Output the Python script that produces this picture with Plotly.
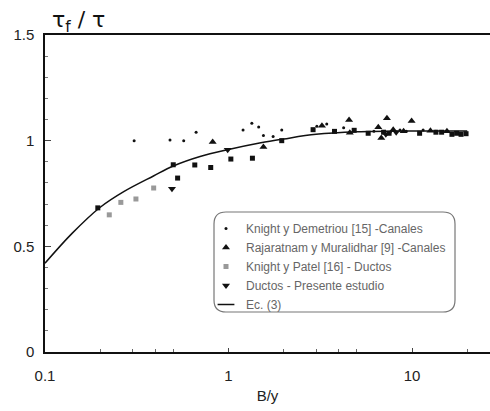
import plotly.graph_objects as go
import numpy as np

# Knight y Demetriou [15] - Canales (dots)
kd_x = [0.306, 0.48, 0.57, 0.666, 1.20, 1.34, 1.46, 1.55, 1.75, 1.95, 3.03, 3.43, 4.24, 6.2, 7.6, 8.6, 9.3, 11.5, 13.5]
kd_y = [1.00, 1.003, 1.00, 1.04, 1.05, 1.082, 1.065, 1.024, 1.02, 1.05, 1.068, 1.079, 1.061, 1.045, 1.04, 1.05, 1.045, 1.05, 1.045]

# Rajaratnam y Muralidhar [9] - Canales (triangles)
rm_x = [0.82, 1.55, 3.23, 4.54, 4.58, 6.55, 6.8, 7.3, 7.9, 9.0, 9.95, 12.6, 15.5]
rm_y = [0.994, 0.97, 1.07, 1.098, 1.038, 1.063, 1.013, 1.106, 1.052, 1.045, 1.093, 1.047, 1.045]

# Knight y Patel [16] - Ductos (squares)
kp_x = [0.224, 0.259, 0.313, 0.391, 0.194, 0.50, 0.528, 0.655, 0.80, 1.03, 1.35, 1.95, 2.89, 3.78, 4.84,
        5.77, 7.0, 7.5, 11.0, 13.5, 14.5, 16.5, 17.5, 18.5, 19.7]
kp_y = [0.649, 0.708, 0.724, 0.776, 0.682, 0.886, 0.823, 0.885, 0.873, 0.913, 0.917, 1.00, 1.052, 1.044, 1.049,
        1.035, 1.04, 1.035, 1.035, 1.04, 1.04, 1.03, 1.035, 1.03, 1.033]
kp_gray = [True, True, True, True] + [False] * 21

# Ductos - Presente estudio (down triangles)
dp_x = [0.492, 0.99, 7.2, 8.2]
dp_y = [0.773, 0.957, 1.03, 1.04]

# Ec. (3) curve
ec_x = [0.1, 0.14, 0.2, 0.27, 0.39, 0.5, 0.7, 1.0, 1.5, 2.0, 3.0, 5.0, 10.0, 20.0]
ec_y = [0.42, 0.56, 0.685, 0.76, 0.833, 0.88, 0.925, 0.958, 0.99, 1.008, 1.03, 1.042, 1.046, 1.046]

legend_names = ["Knight y Demetriou [15] -Canales", "Rajaratnam y Muralidhar [9] -Canales",
                "Knight y Patel [16] - Ductos", "Ductos - Presente estudio", "Ec. (3)"]

fig = go.Figure()
fig.add_trace(go.Scatter(x=kd_x, y=kd_y, mode="markers", name=legend_names[0],
                         marker=dict(symbol="circle", size=3, color="#111")))
fig.add_trace(go.Scatter(x=rm_x, y=rm_y, mode="markers", name=legend_names[1],
                         marker=dict(symbol="triangle-up", size=7, color="#111")))
fig.add_trace(go.Scatter(x=kp_x, y=kp_y, mode="markers", name=legend_names[2],
                         marker=dict(symbol="square", size=5,
                                     color=["#999" if g else "#111" for g in kp_gray])))
fig.add_trace(go.Scatter(x=dp_x, y=dp_y, mode="markers", name=legend_names[3],
                         marker=dict(symbol="triangle-down", size=7, color="#111")))
fig.add_trace(go.Scatter(x=ec_x, y=ec_y, mode="lines", name=legend_names[4], showlegend=False,
                         line=dict(color="#111", width=1.5, shape="spline", smoothing=1.0)))
# legend-only entry with a short dash symbol
fig.add_trace(go.Scatter(x=[None], y=[None], mode="markers", name=legend_names[4],
                         marker=dict(symbol="line-ew-open", size=12, color="#111",
                                     line=dict(color="#111", width=1.5))))

W, H = 490, 411
L, R, T, B = 45, 0, 35, 59
pw, ph = W - L - R, H - T - B

def px2paper(px, py):
    return (px - L) / pw, (H - B - py) / ph

# rounded legend box
x0, y0, x1, y1, r = 214, 212, 455, 312, 12
def P(px, py):
    a, b = px2paper(px, py)
    return f"{a:.5f},{b:.5f}"
path = (f"M {P(x0 + r, y0)} L {P(x1 - r, y0)} Q {P(x1, y0)} {P(x1, y0 + r)} "
        f"L {P(x1, y1 - r)} Q {P(x1, y1)} {P(x1 - r, y1)} "
        f"L {P(x0 + r, y1)} Q {P(x0, y1)} {P(x0, y1 - r)} "
        f"L {P(x0, y0 + r)} Q {P(x0, y0)} {P(x0 + r, y0)} Z")
fig.add_shape(type="path", path=path, xref="paper", yref="paper",
              line=dict(color="#777", width=1.2), fillcolor="rgba(0,0,0,0)")

lx, ly = px2paper(206, 214)

fig.update_layout(
    width=W, height=H,
    margin=dict(l=L, r=R, t=T, b=B),
    paper_bgcolor="white", plot_bgcolor="white",
    font=dict(family="Liberation Sans, Arial, sans-serif", color="#222"),
    showlegend=True,
    legend=dict(x=lx, y=ly, xanchor="left", yanchor="top", bgcolor="rgba(0,0,0,0)",
                font=dict(size=12, color="#666"), itemwidth=30, tracegroupgap=0),
    xaxis=dict(type="log", range=[-1, 1.425], showgrid=False, zeroline=False,
               showline=True, linecolor="#111", linewidth=1.5, mirror=True,
               tickvals=[0.1, 1, 10], ticktext=["0.1", "1", "10"], ticks="inside", ticklen=4,
               tickcolor="#444",
               minor=dict(tickvals=[0.2, 0.3, 0.4, 0.5, 2, 3, 4, 5, 20], ticks="inside", ticklen=3, tickcolor="#666"),
               tickfont=dict(size=15, color="#222"), ticklabelstandoff=9,
               title=dict(text="B/y", font=dict(size=15, color="#222"), standoff=8)),
    yaxis=dict(range=[0, 1.5], showgrid=False, zeroline=False,
               showline=True, linecolor="#111", linewidth=1.5,
               tickvals=[0, 0.5, 1, 1.5], ticktext=["0", "0.5", "1", "1.5"],
               ticks="inside", ticklen=6, tickcolor="#444",
               minor=dict(dtick=0.1, ticks="inside", ticklen=3, tickcolor="#777"),
               tickfont=dict(size=15, color="#222"), ticklabelstandoff=6),
)

fig.add_annotation(text="τ<sub>f</sub> / τ", xref="paper", yref="paper",
                   x=px2paper(50, 0)[0], y=px2paper(0, 21)[1], xanchor="left", yanchor="middle",
                   showarrow=False, font=dict(size=22, color="#111", family="DejaVu Sans"))

fig.write_html("out.html")
